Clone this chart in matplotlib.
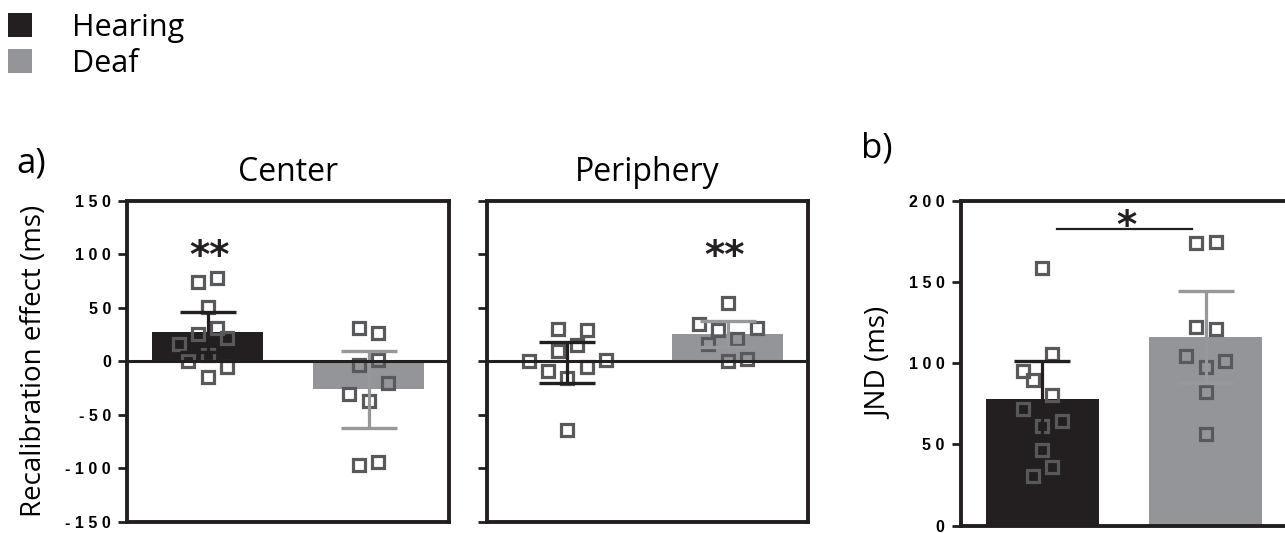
import matplotlib
matplotlib.use("Agg")
from matplotlib import pyplot as plt
from matplotlib.patches import Patch

# Groups and colours
groups = ["Hearing", "Deaf"]
bar_colors = ["#231f20", "#939598"]
err_colors = ["#231f20", "#97989a"]
point_color = "#58595b"

# a) recalibration effect (ms) - bar means and SEM
center_means = [27.4, -26]
center_sem = [19, 36]
periph_means = [-1, 25.5]
periph_sem = [19, 12.5]

# a) individual points, Center
center_hearing = [73.8, 77.6, 50.7, 25.2, 30.8, 21.8, 16.5, 6.2, 0, -5.6, -14.7]
center_hearing_jit = [-1, 1, 0, -1, 1, 2, -3, 0, -2, 2, 0]
center_deaf = [31.2, 25.9, 1, -4, -20.2, -30.2, -37.4, -96.6, -94.4]
center_deaf_jit = [-1, 1, 1, -1, 2, -2, 0, -1, 1]

# a) individual points, Periphery
periph_hearing = [29.9, 28.7, 15.6, 9.3, 0.6, 1.2, -8.7, -5.6, -15.6, -64.5]
periph_hearing_jit = [-1, 2, 1, -1, -4, 4, -2, 2, 0, 0]
periph_deaf = [54.5, 34.9, 28.7, 30.6, 21.2, 16.5, 0, 2.5]
periph_deaf_jit = [0, -3, -1, 3, 1, -2, 0, 2]

# b) JND (ms)
jnd_means = [77.8, 116.1]
jnd_sem = [23.5, 28.3]
jnd_hearing = [158.8, 105.7, 95.4, 89.7, 80.4, 71.6, 61.4, 64.6, 46.6, 35.9, 30.6]
jnd_hearing_jit = [0, 1, -2, -1, 1, -2, 0, 2, 0, 1, -1]
jnd_deaf = [173.8, 174.4, 122.5, 120.8, 104.4, 101.5, 97.5, 82.5, 56.2]
jnd_deaf_jit = [-1, 1, -1, 1, -2, 2, 0, 0, 0]

a_ticks = [-150, -100, -50, 0, 50, 100, 150]
b_ticks = [0, 50, 100, 150, 200]

TEXT_FONT = "Open Sans"
TICK_FONT = "Liberation Sans"
JIT = 0.06
W, H = 1285, 533


def spaced(v):
    # mimic the letter-spaced tick labels of the original
    s = str(v)
    if s.startswith("-"):
        return "- " + " ".join(s[1:])
    return " ".join(s)


def make_ax(fig, left, right, top, bottom):
    ax = fig.add_axes([left / W, 1 - bottom / H, (right - left) / W, (bottom - top) / H])
    for sp in ax.spines.values():
        sp.set_linewidth(2.8)
        sp.set_color("#231f20")
    ax.tick_params(axis="x", bottom=False, labelbottom=False)
    ax.tick_params(axis="y", length=6.5, width=2, color="#231f20", pad=5)
    ax.set_xlim(-0.5, 1.5)
    return ax


def draw_group(ax, means, sems, points, jits):
    for i in range(2):
        ax.bar(i, means[i], width=0.69, color=bar_colors[i], zorder=2)
        xs = [i + j * JIT for j in jits[i]]
        ax.plot(xs, points[i], ls="none", marker="s", ms=8.2, mew=2.3,
                mfc="none", mec=point_color, zorder=3)
        ax.errorbar(i, means[i], yerr=sems[i], fmt="none", ecolor=err_colors[i],
                    elinewidth=2.3, capsize=20, capthick=2.4, zorder=4)


def star(ax, x, y, txt):
    ax.annotate(txt, (x, y), xytext=(0, -16), textcoords="offset points",
                ha="center", va="baseline", fontsize=28, family="DejaVu Sans",
                fontweight="bold", color="#231f20", zorder=6)


fig = plt.figure(figsize=(W / 100, H / 100), dpi=100)

# a) Center
ax1 = make_ax(fig, 127, 449, 200.7, 521.7)
draw_group(ax1, center_means, center_sem, [center_hearing, center_deaf],
           [center_hearing_jit, center_deaf_jit])
ax1.axhline(0, color="#231f20", lw=2.2, zorder=5)
ax1.set_ylim(-150, 150)
ax1.set_yticks(a_ticks)
ax1.set_yticklabels([spaced(t) for t in a_ticks], family=TICK_FONT,
                    fontweight="bold", fontsize=11.5)
ax1.set_title("Center", family=TEXT_FONT, fontsize=23, pad=14)
ax1.set_ylabel("Recalibration effect (ms)", family=TEXT_FONT, fontsize=20)
ax1.yaxis.set_label_coords(-0.245, 0.5)
star(ax1, 0.01, 108, "**")

# a) Periphery
ax2 = make_ax(fig, 487, 808, 200.7, 521.7)
draw_group(ax2, periph_means, periph_sem, [periph_hearing, periph_deaf],
           [periph_hearing_jit, periph_deaf_jit])
ax2.axhline(0, color="#231f20", lw=2.2, zorder=5)
ax2.set_ylim(-150, 150)
ax2.set_yticks(a_ticks)
ax2.set_yticklabels([])
ax2.set_title("Periphery", family=TEXT_FONT, fontsize=23, pad=14)
star(ax2, 0.98, 108, "**")

# b) JND
ax3 = make_ax(fig, 960.7, 1287.5, 200.7, 525.7)
draw_group(ax3, jnd_means, jnd_sem, [jnd_hearing, jnd_deaf],
           [jnd_hearing_jit, jnd_deaf_jit])
ax3.set_ylim(0, 200)
ax3.set_yticks(b_ticks)
ax3.set_yticklabels([spaced(t) for t in b_ticks], family=TICK_FONT,
                    fontweight="bold", fontsize=11.5)
ax3.set_ylabel("JND (ms)", family=TEXT_FONT, fontsize=20)
ax3.yaxis.set_label_coords(-0.205, 0.5)
ax3.plot([0.088, 0.916], [182.4, 182.4], color="#231f20", lw=1.6, zorder=5)
star(ax3, 0.513, 191, "*")

# panel letters
fig.text(16 / W, 1 - 172 / H, "a)", family=TEXT_FONT, fontsize=25, va="baseline")
fig.text(861 / W, 1 - 158 / H, "b)", family=TEXT_FONT, fontsize=25, va="baseline")

# legend
handles = [Patch(facecolor=c, edgecolor="none") for c in bar_colors]
fig.legend(handles, groups, loc="upper left", bbox_to_anchor=(0.0, 1 - 5 / H),
           frameon=False, prop={"family": TEXT_FONT, "size": 22},
           handlelength=0.8, handleheight=0.8, handletextpad=1.3,
           labelspacing=0.2, borderaxespad=0.1, borderpad=0.15)

fig.savefig("out.png", dpi=100)
